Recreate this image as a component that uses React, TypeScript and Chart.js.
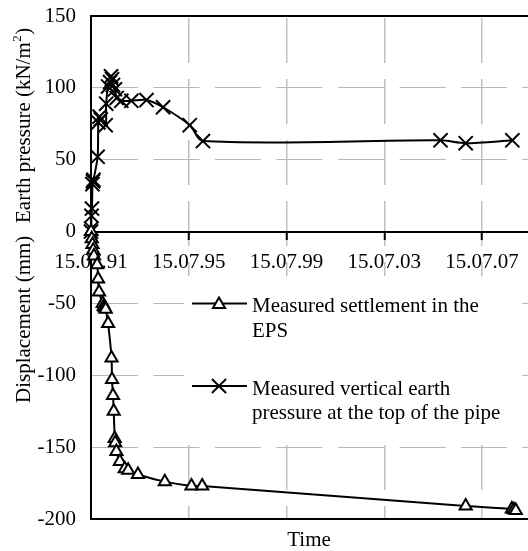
import React, { useEffect, useRef } from 'react';
import { Chart, registerables } from 'chart.js';

Chart.register(...registerables);

// ---- data ----
// x values are years after 15.07.91
const xTickYears = [0, 4, 8, 12, 16];
const xTickLabels = ['15.07.91', '15.07.95', '15.07.99', '15.07.03', '15.07.07'];
const yTickValues = [-200, -150, -100, -50, 0, 50, 100, 150];

const settlementT = [0, 0.03, 0.06, 0.09, 0.12, 0.25, 0.29, 0.33, 0.48, 0.52, 0.56, 0.6, 0.7, 0.84, 0.86, 0.9, 0.93, 0.97, 0.99, 1.04, 1.18, 1.38, 1.52, 1.92, 3.02, 4.11, 4.55, 15.33, 17.22, 17.3, 17.38];
const settlementV = [0, -5, -9, -13, -17, -23, -33, -42, -50, -52, -53, -54, -64, -88, -103, -114, -125, -144, -147, -153, -160, -165, -166, -169, -174, -177, -177, -191, -193, -193.5, -194];

const pressureT = [0, 0.01, 0.02, 0.04, 0.06, 0.08, 0.1, 0.27, 0.3, 0.35, 0.4, 0.6, 0.62, 0.7, 0.78, 0.82, 0.86, 0.9, 0.98, 1.05, 1.24, 1.65, 2.27, 2.95, 4.04, 4.58, 14.3, 15.33, 17.24];
const pressureV = [0, 2, 11, 16, 33, 35, 36, 52, 76, 80, 78, 74, 89, 101, 104, 108, 106, 102, 99, 93, 91, 91, 91.5, 86.5, 74, 63, 63.5, 61.5, 63.5];

const seriesLabels = [
  ['Measured settlement in the', 'EPS'],
  ['Measured vertical earth', 'pressure at the top of the pipe'],
];
const yTitleUpper = 'Earth pressure (kN/m';
const yTitleUpperSup = '2';
const yTitleLower = 'Displacement (mm)';
const xTitle = 'Time';

const FAMILY = '"Liberation Serif", "Times New Roman", serif';
const FONT_SIZE = 21;

function drawTriangle(ctx: CanvasRenderingContext2D, x: number, y: number, r: number) {
  ctx.beginPath();
  ctx.moveTo(x, y - r);
  ctx.lineTo(x + r * 0.866, y + r / 2);
  ctx.lineTo(x - r * 0.866, y + r / 2);
  ctx.closePath();
  ctx.fillStyle = '#fff';
  ctx.fill();
  ctx.stroke();
}

function drawX(ctx: CanvasRenderingContext2D, x: number, y: number, r: number) {
  const d = r * 0.7071;
  ctx.beginPath();
  ctx.moveTo(x - d, y - d);
  ctx.lineTo(x + d, y + d);
  ctx.moveTo(x + d, y - d);
  ctx.lineTo(x - d, y + d);
  ctx.stroke();
}

const framePlugin = {
  id: 'framePlugin',
  beforeDatasetsDraw(chart: any) {
    const { ctx, chartArea: a } = chart;
    ctx.save();
    // top and bottom frame lines
    ctx.strokeStyle = '#000';
    ctx.lineWidth = 2;
    ctx.beginPath();
    ctx.moveTo(a.left - 1, a.top);
    ctx.lineTo(a.right, a.top);
    ctx.moveTo(a.left - 1, a.bottom);
    ctx.lineTo(a.right, a.bottom);
    ctx.stroke();

    // legend box
    ctx.fillStyle = '#fff';
    ctx.fillRect(184, 276, 336, 164);
    const lineX1 = 192;
    const lineX2 = 247;
    const markX = 219;
    const textX = 252;
    const rowsY = [303.5, 386];
    ctx.font = `${FONT_SIZE}px ${FAMILY}`;
    ctx.textAlign = 'left';
    ctx.textBaseline = 'alphabetic';
    seriesLabels.forEach((lines, i) => {
      const y = rowsY[i];
      ctx.strokeStyle = '#000';
      ctx.lineWidth = 2;
      ctx.beginPath();
      ctx.moveTo(lineX1, y);
      ctx.lineTo(lineX2, y);
      ctx.stroke();
      if (i === 0) drawTriangle(ctx, markX, y + 1, 7);
      else drawX(ctx, markX, y, 10);
      ctx.fillStyle = '#000';
      lines.forEach((t, j) => {
        ctx.fillText(t, textX, y + 8.5 + j * 24.5);
      });
    });
    ctx.restore();
  },
  afterDraw(chart: any) {
    const { ctx } = chart;
    ctx.save();
    ctx.fillStyle = '#000';
    ctx.textBaseline = 'alphabetic';
    ctx.textAlign = 'left';
    // upper y title (rotated)
    ctx.save();
    ctx.translate(30, 223);
    ctx.rotate(-Math.PI / 2);
    ctx.font = `${FONT_SIZE}px ${FAMILY}`;
    ctx.fillText(yTitleUpper, 0, 0);
    const w1 = ctx.measureText(yTitleUpper).width;
    ctx.font = `13px ${FAMILY}`;
    ctx.fillText(yTitleUpperSup, w1 + 0.5, -9);
    const w2 = ctx.measureText(yTitleUpperSup).width;
    ctx.font = `${FONT_SIZE}px ${FAMILY}`;
    ctx.fillText(')', w1 + w2 + 1, 0);
    ctx.restore();
    // lower y title
    ctx.save();
    ctx.translate(30, 403);
    ctx.rotate(-Math.PI / 2);
    ctx.font = `${FONT_SIZE}px ${FAMILY}`;
    ctx.fillText(yTitleLower, 0, 0);
    ctx.restore();
    // x title
    ctx.font = `${FONT_SIZE}px ${FAMILY}`;
    ctx.textAlign = 'center';
    ctx.fillText(xTitle, 309, 546);
    ctx.restore();
  },
};

export default function App() {
  const ref = useRef<HTMLCanvasElement | null>(null);

  useEffect(() => {
    const canvas = ref.current;
    if (!canvas) return;
    const chart = new Chart(canvas, {
      type: 'line',
      data: {
        datasets: [
          {
            label: seriesLabels[0].join(' '),
            data: settlementT.map((t, i) => ({ x: t, y: settlementV[i] })),
            borderColor: '#000',
            borderWidth: 2,
            pointStyle: 'triangle',
            pointRadius: 7,
            pointBorderWidth: 2,
            pointBackgroundColor: '#fff',
            pointBorderColor: '#000',
            tension: 0.3,
            fill: false,
            clip: false,
          } as any,
          {
            label: seriesLabels[1].join(' '),
            data: pressureT.map((t, i) => ({ x: t, y: pressureV[i] })),
            borderColor: '#000',
            borderWidth: 2,
            pointStyle: 'crossRot',
            pointRadius: 10,
            pointBorderWidth: 2,
            pointBackgroundColor: '#000',
            pointBorderColor: '#000',
            tension: 0.3,
            fill: false,
            clip: false,
          } as any,
        ],
      },
      options: {
        responsive: false,
        animation: false,
        devicePixelRatio: 1,
        layout: { autoPadding: false, padding: { left: 0, top: 16, right: 0, bottom: 32 } },
        plugins: {
          legend: { display: false },
          tooltip: { enabled: false },
          title: { display: false },
        },
        scales: {
          x: {
            type: 'linear',
            min: 0,
            max: 17.88,
            position: { y: 0 } as any,
            afterBuildTicks: (s: any) => {
              s.ticks = xTickYears.map((v) => ({ value: v }));
            },
            afterFit: (s: any) => {
              s.paddingLeft = 0;
              s.paddingRight = 0;
              s.paddingTop = 0;
              s.paddingBottom = 0;
            },
            ticks: {
              autoSkip: false,
              maxRotation: 0,
              minRotation: 0,
              color: '#000',
              padding: 11,
              font: { family: FAMILY, size: FONT_SIZE },
              callback: (_v: any, i: number) => xTickLabels[i],
            },
            grid: {
              color: '#c0c0c0',
              lineWidth: 1.5,
              drawTicks: true,
              tickLength: 7,
              tickColor: '#000',
              tickWidth: 2,
            },
            border: { display: true, color: '#000', width: 2, dash: [45, 16], dashOffset: -2 },
          } as any,
          y: {
            type: 'linear',
            min: -200,
            max: 150,
            afterBuildTicks: (s: any) => {
              s.ticks = yTickValues.map((v) => ({ value: v }));
            },
            afterFit: (s: any) => {
              s.width = 91;
              s.paddingTop = 0;
              s.paddingBottom = 0;
              s.paddingLeft = 0;
              s.paddingRight = 0;
            },
            ticks: {
              color: '#000',
              padding: 15,
              font: { family: FAMILY, size: FONT_SIZE },
              callback: (v: any) => String(v),
            },
            grid: {
              color: '#b8b8b8',
              lineWidth: 1,
              drawTicks: false,
            },
            border: { display: true, color: '#000', width: 2, dash: [46, 15.5], dashOffset: 0 },
          } as any,
        },
      },
      plugins: [framePlugin],
    });
    return () => chart.destroy();
  }, []);

  return (
    <div style={{ position: 'absolute', left: 0, top: 0, width: 528, height: 551, background: '#fff' }}>
      <canvas ref={ref} width={528} height={551} style={{ display: 'block', width: 528, height: 551 }} />
    </div>
  );
}
